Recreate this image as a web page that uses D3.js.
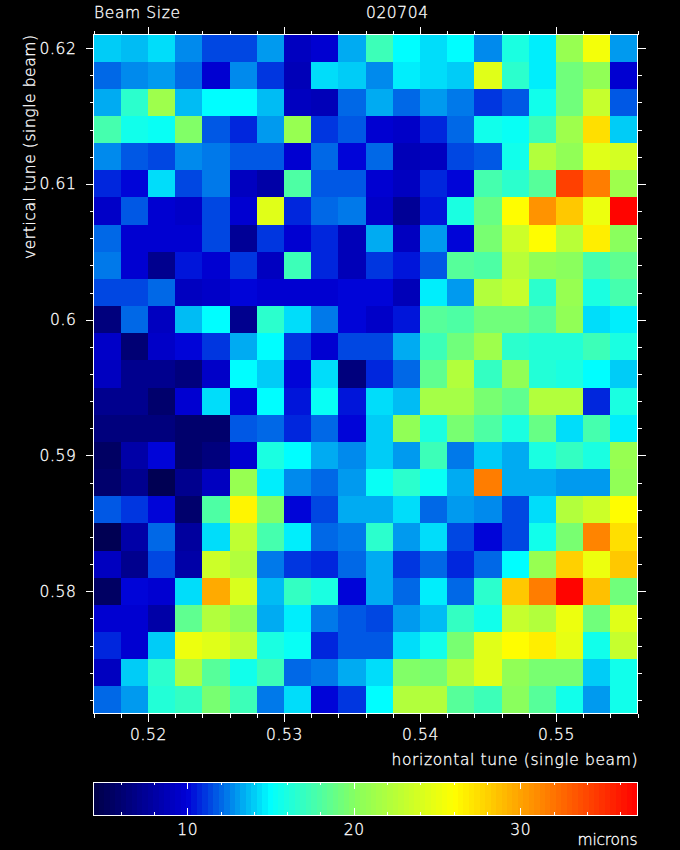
<!DOCTYPE html>
<html>
<head>
<meta charset="utf-8">
<script src="https://cdnjs.cloudflare.com/ajax/libs/d3/7.8.5/d3.min.js"></script>
<style>
  html, body { margin: 0; background: #000; overflow: hidden; }
  svg { display: block; }
  text { fill: #fff; stroke: #fff; stroke-width: 0.3px; font-family: "DejaVu Sans", sans-serif; font-weight: 200; }
  .tick text { letter-spacing: 0.6px; }
</style>
</head>
<body>
<div id="chart"></div>
<script>
// left edge of each column
let tune_x = [0.516, 0.518, 0.52, 0.522, 0.524, 0.526, 0.528, 0.53, 0.532, 0.534,
              0.536, 0.538, 0.54, 0.542, 0.544, 0.546, 0.548, 0.55, 0.552, 0.554]
// centre of each row, top to bottom
let tune_y = [0.62, 0.618, 0.616, 0.614, 0.612, 0.61, 0.608, 0.606, 0.604, 0.602,
              0.6, 0.598, 0.596, 0.594, 0.592, 0.59, 0.588, 0.586, 0.584, 0.582,
              0.58, 0.578, 0.576, 0.574, 0.572]

// beam size in microns, one line per row
let beam_size = [
  [13.9,13.6,14.2,12.6,11.4,11.5,13.0,9.2,9.9,13.5,17.4,15.0,14.4,15.0,12.6,16.1,14.8,20.8,25.4,12.9],
  [12.2,12.7,12.9,12.0,9.8,12.8,11.1,8.9,14.4,14.0,12.6,14.8,14.4,13.9,24.3,16.6,14.6,19.3,20.4,9.8],
  [13.4,16.6,21.2,13.7,15.0,15.1,13.8,9.0,8.8,11.9,13.2,12.1,13.0,12.5,11.1,11.8,15.7,19.1,23.3,11.8],
  [17.6,15.7,15.2,20.0,11.7,10.6,13.0,21.0,11.2,11.7,9.6,9.4,10.9,12.1,15.7,15.2,17.4,21.3,27.3,13.9],
  [12.6,11.8,11.4,12.6,12.3,11.8,11.6,9.9,11.9,10.2,11.9,8.8,9.2,11.4,11.7,15.6,22.1,20.4,24.5,23.8],
  [10.9,10.2,14.2,11.3,12.4,9.2,8.0,17.9,11.7,11.6,9.9,9.0,10.9,10.1,17.6,16.5,18.1,34.2,31.7,21.2],
  [9.4,11.6,9.9,9.4,11.4,9.9,24.5,10.9,12.2,12.5,9.5,7.5,10.5,15.9,19.0,26.0,30.7,28.5,25.0,37.0],
  [12.1,9.9,9.9,9.8,11.3,7.5,11.1,9.7,10.8,8.9,13.3,9.0,13.0,10.1,19.7,23.5,26.0,22.4,26.7,20.2],
  [12.5,9.9,7.0,10.4,9.6,11.1,9.0,17.3,10.9,8.7,11.2,10.3,11.7,18.1,17.9,22.6,20.6,20.2,17.6,18.6],
  [11.4,11.3,12.2,9.2,9.5,10.2,9.7,9.8,9.8,10.1,10.1,8.8,14.6,12.9,22.1,23.1,16.7,20.8,16.1,17.6],
  [6.5,11.9,9.0,13.8,15.0,7.3,16.5,14.2,12.3,10.2,9.4,10.3,18.1,17.9,19.3,19.1,18.1,20.6,14.3,14.7],
  [9.3,6.3,9.4,10.1,11.2,13.4,15.0,11.0,9.6,11.3,11.4,13.3,17.2,19.3,21.2,16.5,16.2,16.2,17.3,16.1],
  [9.0,7.0,7.3,6.5,9.4,15.1,13.9,10.2,14.2,6.5,10.6,12.0,18.7,22.3,16.9,20.6,16.4,15.9,15.1,13.9],
  [7.0,7.3,5.8,9.6,14.4,10.0,15.1,10.5,15.2,10.4,14.2,13.8,21.4,21.4,19.6,18.7,22.1,22.2,10.9,16.1],
  [6.5,6.6,6.6,5.9,6.0,11.7,12.1,10.9,12.1,10.1,13.9,20.6,15.9,19.6,18.0,16.1,18.9,14.4,17.6,14.7],
  [5.6,8.0,10.2,5.9,6.6,9.9,15.9,15.1,13.4,12.7,14.0,13.0,17.4,12.4,14.0,13.4,16.1,16.9,15.9,20.8],
  [5.7,7.3,4.7,7.3,9.2,20.8,14.7,12.6,11.9,12.9,15.2,16.6,15.2,13.5,31.8,13.4,13.4,13.1,13.1,20.4],
  [11.8,11.1,10.2,5.8,18.0,26.5,20.0,10.1,11.4,13.4,13.3,14.4,12.1,13.1,12.6,11.4,14.3,22.1,23.5,26.0],
  [5.0,8.2,12.1,7.7,14.3,22.8,17.7,14.6,11.9,12.5,16.6,12.9,14.2,11.4,10.1,11.4,15.7,19.7,31.4,27.3],
  [9.0,7.3,11.4,8.0,23.5,22.1,12.3,11.2,10.9,12.1,13.5,11.2,12.2,10.8,12.0,15.1,20.8,28.0,25.0,28.5],
  [5.6,10.1,9.9,14.2,29.7,24.1,13.7,17.1,15.9,10.2,13.4,11.9,14.7,12.1,16.7,28.4,31.7,37.0,28.6,19.3],
  [9.8,9.8,8.0,18.7,22.3,20.4,13.5,14.7,12.5,11.7,11.5,13.0,13.7,17.0,15.5,23.3,22.3,25.2,19.2,24.3],
  [10.9,9.8,13.9,25.2,24.6,22.8,16.1,15.2,10.9,11.6,11.8,14.3,15.5,19.4,24.4,26.0,26.9,24.8,15.7,23.1],
  [9.0,13.9,16.7,22.0,18.4,15.5,17.3,12.1,12.5,13.3,14.3,20.0,19.4,22.1,24.5,20.4,19.6,19.6,14.0,15.7],
  [12.0,13.0,16.4,17.0,19.7,17.3,12.4,14.3,10.1,11.2,15.1,22.3,22.1,18.3,17.4,20.1,18.2,15.7,13.0,15.7]
]

let x_major = [0.52, 0.53, 0.54, 0.55]
let y_major = [0.62, 0.61, 0.6, 0.59, 0.58]
let bar_major = [10, 20, 30]
let bar_minor = [6, 8, 12, 14, 16, 18, 22, 24, 26, 28, 32, 34, 36]

let ramp_values = [4.37, 10, 15, 20.3, 26, 37.04]
let ramp_colors = ["#000046", "#0000d7", "#00ffff", "#8cff5a", "#ffff00", "#ff0000"]
let ramp_levels = 100

let width = 680,
    height = 850,
    left = 93.5,
    right = 637.5,
    top_y = 34.5,
    bottom_y = 713.5,
    bar_top = 782,
    bar_bottom = 815

let svg = d3.select("#chart").append("svg")
    .attr("width", width)
    .attr("height", height)
    .style("background", "#000")

let x = d3.scaleLinear().domain([0.516, 0.556]).range([left, right])
let y = d3.scaleLinear().domain([0.571, 0.621]).range([bottom_y, top_y])
let bar_x = d3.scaleLinear().domain([4.37, 37.04]).range([left, right])

let ramp = d3.scaleLinear()
    .domain(ramp_values)
    .range(ramp_colors)
    .interpolate(d3.interpolateRgb)
let color = d3.scaleQuantize()
    .domain([4.37, 37.04])
    .range(d3.range(ramp_levels).map(function(i) {
      return ramp(4.37 + (37.04 - 4.37) * (i + 0.5) / ramp_levels)
    }))

// heat map cells
svg.append("g").selectAll("g")
    .data(beam_size).enter()
  .append("g")
    .each(function(row, i) {
      d3.select(this).selectAll("rect")
          .data(row).enter()
        .append("rect")
          .attr("shape-rendering", "crispEdges")
          .attr("x", function(d, j) { return x(tune_x[j]) })
          .attr("y", y(tune_y[i] + 0.001))
          .attr("width", x(0.518) - x(0.516))
          .attr("height", y(0.58) - y(0.582))
          .style("fill", function(d) { return color(d) })
    })

// colour bar
svg.append("g").selectAll("rect")
    .data(color.range()).enter()
  .append("rect")
    .attr("shape-rendering", "crispEdges")
    .attr("x", function(d) { return bar_x(color.invertExtent(d)[0]) })
    .attr("y", bar_top)
    .attr("width", function(d) {
      let e = color.invertExtent(d)
      return bar_x(e[1]) - bar_x(e[0]) + 0.5
    })
    .attr("height", bar_bottom - bar_top)
    .style("fill", function(d) { return d })

function draw_axis(axis, dx, dy) {
  let g = svg.append("g")
      .attr("transform", "translate(" + dx + "," + dy + ")")
      .call(axis)
  g.select(".domain").remove()
  g.selectAll("line")
      .attr("stroke", "#fff")
      .attr("shape-rendering", "crispEdges")
  return g
}

function no_label() { return "" }

// ticks outward on all four sides of the map
let x_minor = d3.range(0, 21).map(function(i) { return 0.516 + i * 0.002 })
    .filter(function(v) { return !x_major.some(function(m) { return Math.abs(m - v) < 1e-6 }) })
let y_minor = tune_y.filter(function(v) { return !y_major.includes(v) })

draw_axis(d3.axisBottom(x).tickValues(x_minor).tickSize(4).tickFormat(no_label), 0, bottom_y)
draw_axis(d3.axisTop(x).tickValues(x_minor).tickSize(4).tickFormat(no_label), 0, top_y)
draw_axis(d3.axisTop(x).tickValues(x_major).tickSize(8).tickFormat(no_label), 0, top_y)
draw_axis(d3.axisRight(y).tickValues(y_minor).tickSize(4).tickFormat(no_label), right, 0)
draw_axis(d3.axisRight(y).tickValues(y_major).tickSize(8).tickFormat(no_label), right, 0)
draw_axis(d3.axisLeft(y).tickValues(y_minor).tickSize(4).tickFormat(no_label), left, 0)

let x_labels = draw_axis(d3.axisBottom(x).tickValues(x_major).tickSize(8).tickPadding(8)
    .tickFormat(d3.format(".2f")), 0, bottom_y)
x_labels.selectAll("text")
    .style("font-size", "15.5px")
    .attr("dy", null)
    .attr("y", 26.5)

let y_labels = draw_axis(d3.axisLeft(y).tickValues(y_major).tickSize(8).tickPadding(9)
    .tickFormat(function(d) { return d === 0.6 ? "0.6" : d3.format(".2f")(d) }), left, 0)
y_labels.selectAll("text")
    .style("font-size", "15.5px")

// colour bar ticks point inward
draw_axis(d3.axisBottom(bar_x).tickValues(bar_minor).tickSize(3).tickFormat(no_label), 0, bar_top)
draw_axis(d3.axisTop(bar_x).tickValues(bar_minor).tickSize(3).tickFormat(no_label), 0, bar_bottom)
draw_axis(d3.axisBottom(bar_x).tickValues(bar_major).tickSize(7).tickFormat(no_label), 0, bar_top)
let bar_labels = draw_axis(d3.axisTop(bar_x).tickValues(bar_major).tickSize(7)
    .tickFormat(d3.format("d")), 0, bar_bottom)
bar_labels.selectAll("text")
    .style("font-size", "15.5px")
    .attr("dy", null)
    .attr("y", 20)

// frames
svg.append("rect")
    .attr("x", left).attr("y", top_y)
    .attr("width", right - left).attr("height", bottom_y - top_y)
    .attr("fill", "none").attr("stroke", "#fff")
svg.append("rect")
    .attr("x", left).attr("y", bar_top + 0.5)
    .attr("width", right - left).attr("height", bar_bottom - bar_top)
    .attr("fill", "none").attr("stroke", "#fff")

// titles
function label(txt, tx, ty, anchor, len) {
  return svg.append("text")
      .attr("x", tx).attr("y", ty)
      .attr("text-anchor", anchor)
      .attr("textLength", len)
      .style("font-size", "15.5px")
      .text(txt)
}

label("Beam Size", 94, 18, "start", 86)
label("020704", 366, 18, "start", 62)
label("horizontal tune (single beam)", right, 765, "end", 246)
label("microns", right, 845, "end", 60)
label("vertical tune (single beam)", 0, 0, "end", 224)
    .attr("transform", "translate(35,35) rotate(-90)")
</script>
</body>
</html>
